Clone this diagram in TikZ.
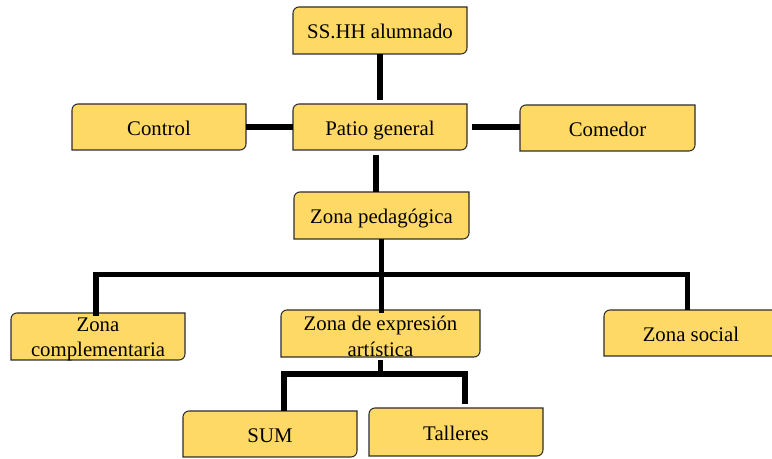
\documentclass[tikz,border=0pt]{standalone}
\usepackage{fontspec}
\setmainfont{Liberation Serif}
\newfontfamily\zonefont{Liberation Serif}
\begin{document}
\definecolor{zonefill}{RGB}{255,217,102}
\definecolor{zoneedge}{RGB}{45,45,45}
\tikzset{
  boxline/.style={fill=zonefill, draw=zoneedge, line width=0.8pt},
  boxtext/.style={inner sep=0pt, align=center,
    font=\zonefont\fontsize{15.6}{18}\selectfont},
  oneline/.style={text height=12.4pt, text depth=0pt},
  twolines/.style={yshift=-2.25pt},
  link/.style={line width=4pt, draw=black, line cap=butt, line join=miter},
}
% Box with rounded top-left and bottom-right corners.
% Arguments: [label options], name, left, top, right, bottom
% (pixels, measured from the top), label.
\newcommand\zonebox[7][oneline]{%
  \draw[boxline] (#3,{459-(#6)}) -- (#3,{459-(#4)-6})
    arc[start angle=180,end angle=90,radius=4.5pt] -- (#5,{459-(#4)})
    -- (#5,{459-(#6)+6})
    arc[start angle=0,end angle=-90,radius=4.5pt] -- cycle;
  \node[boxtext, #1, minimum width={(#5-#3)*0.75pt}, minimum height={(#6-#4)*0.75pt}]
    (#2) at ({(#3+#5)/2},{459-(#4+#6)/2}) {#7};
}
\begin{tikzpicture}[x=0.75pt, y=0.75pt]
\useasboundingbox (0,0) rectangle (772,459);

\zonebox{ss}{293}{7}{467}{54}{SS.HH alumnado}
\zonebox{patio}{293}{104}{467}{150}{Patio general}
\zonebox{control}{72}{104}{246}{150}{Control}
\zonebox{comedor}{520}{105}{695}{151}{Comedor}
\zonebox{ped}{294}{192}{469}{239}{Zona pedagógica}
\zonebox[twolines]{comp}{11}{313}{185}{360}{Zona\\[1pt]complementaria}
\zonebox[twolines]{expr}{281}{310}{480}{357}{Zona de expresión\\[1pt]artística}
\zonebox{social}{604}{310}{778}{356}{Zona social}
\zonebox{sum}{183}{411}{357}{457}{SUM}
\zonebox{talleres}{369}{408}{543}{456}{Talleres}

% upper links
\draw[link, shorten >=3pt] (ss.south) -- (patio.north);
\draw[link] (control.east) -- (control.east -| patio.west);
\draw[link, shorten <=3.75pt] (patio.east) -- (patio.east -| comedor.west);
\draw[link, shorten <=3.75pt]
  ([xshift=-3pt]patio.south) -- ([xshift=-3pt]patio.south |- ped.north);

% branches below the pedagogical zone
\coordinate (pedbus) at (381,184.5);
\draw[link] (ped.south) -- (ped.south |- expr.north);
\draw[link] ([xshift=-1.5pt]comp.north) |- (pedbus)
  -| ([xshift=-2.6pt]social.north);

% branches below the artistic expression zone
\coordinate (exprbus) at (380.5,85);
\draw[link] (expr.south) -- (exprbus);
\draw[link, shorten >=3pt] ([xshift=10.5pt]sum.north) |- (exprbus)
  -| ([xshift=6.75pt]talleres.north);
\end{tikzpicture}
\end{document}
